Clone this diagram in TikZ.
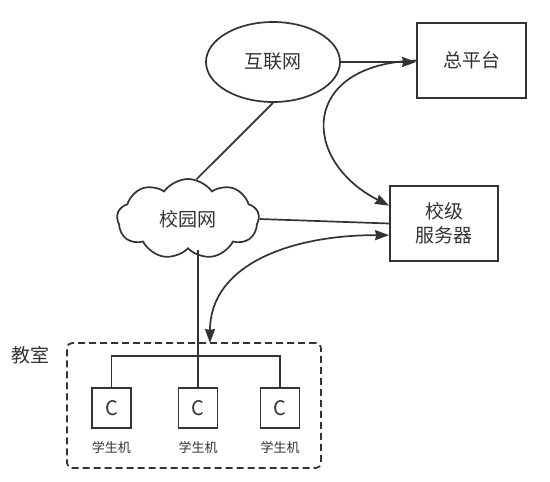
\documentclass[tikz,border=0pt]{standalone}
\usepackage{fontspec}
\setmainfont{Noto Sans CJK SC}
\usetikzlibrary{shapes.geometric,shapes.symbols,arrows.meta,calc}
\definecolor{ink}{HTML}{333333}
\begin{document}
\begin{tikzpicture}[x=1pt,y=-1pt,
  every node/.style={text=ink},
  line/.style={draw=ink,line width=1.7pt},
  arr/.style={line,-{Stealth[length=14pt,width=10pt,inset=1pt]}},
  darr/.style={line,{Stealth[length=14pt,width=10pt,inset=1pt]}-{Stealth[length=14pt,width=10pt,inset=1pt]}},
  box/.style={draw=ink,line width=1.7pt,rectangle,inner sep=0pt,align=center,font=\fontsize{19}{24}\selectfont},
  pcbox/.style={draw=ink,line width=1.7pt,rectangle,minimum width=39pt,minimum height=40pt,inner sep=0pt,font=\fontsize{20}{22}\selectfont},
  pclabel/.style={font=\fontsize{13}{14}\selectfont,inner sep=0pt},
  bigtext/.style={font=\fontsize{19}{22}\selectfont}
]
\useasboundingbox (0,0) rectangle (550,482);
\fill[white] (0,0) rectangle (550,482);

\node[ellipse,draw=ink,line width=1.7pt,minimum width=134pt,minimum height=80pt,inner sep=0pt,bigtext] (hl) at (273,62) {互联网};
\node[box,minimum width=109pt,minimum height=75pt] (zpt) at (471.5,60.5) {总平台};
\node[box,minimum width=108pt,minimum height=75pt] (xj) at (444,223.5) {校级\\服务器};
\node[cloud,cloud puffs=9,cloud puff arc=110,aspect=1.8,draw=ink,line width=1.7pt,minimum width=142pt,minimum height=80pt,inner sep=0pt,bigtext] (yw) at (188,219) {校园网};

\node[draw=ink,line width=1.7pt,dash pattern=on 7pt off 4pt,rounded corners=5pt,minimum width=254pt,minimum height=125pt,inner sep=0pt] (room) at (194,405.5) {};
\node[bigtext,inner sep=0pt] (roomlbl) at (31,355) {教室};

\node[pcbox] (s1) at (111.5,408) {C};
\node[pcbox] (s2) at (198,408) {C};
\node[pcbox] (s3) at (280,408) {C};
\node[pclabel] (l1) at (111.5,447) {学生机};
\node[pclabel] (l2) at (198,447) {学生机};
\node[pclabel] (l3) at (280,447) {学生机};

\coordinate (cin) at (210,343);

\draw[line] (hl.south) -- (yw.78);
\draw[arr] (hl.east) -- (hl.east -| zpt.west);
\draw[arr] (zpt.west) .. controls (300,64) and (300,160) .. (xj.162);
\draw[line] (yw.east) -- (xj.west);
\draw[darr] (xj.192) .. controls (290,235) and (210,265) .. (cin);
\draw[line] (s2.north |- yw.south) -- (s2.north);
\draw[line] (s1.north) -- ++(0,-31) -| (s3.north);
\end{tikzpicture}
\end{document}
